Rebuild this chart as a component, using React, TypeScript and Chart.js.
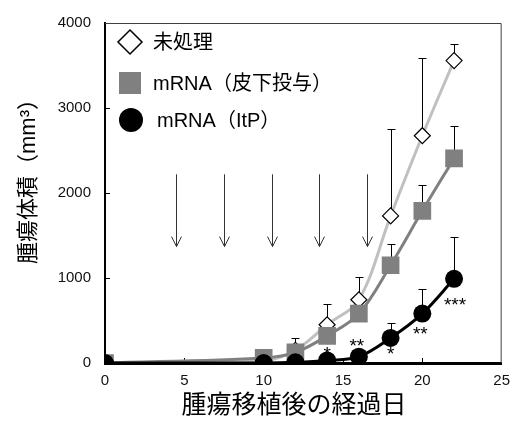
import React, { useEffect, useRef } from "react";
import { Chart, registerables } from "chart.js";
Chart.register(...registerables);

// ---- data ----
const days = [0, 10, 12, 14, 16, 18, 20, 22];
const untreated = [0, 25, 150, 450, 744, 1730, 2674, 3558];
const untreatedErr = [0, 20, 140, 250, 268, 1026, 919, 198];
const subq = [0, 60, 125, 320, 580, 1150, 1790, 2407];
const subqErr = [0, 60, 60, 60, 60, 245, 303, 383];
const itp = [0, 0, 8, 30, 75, 295, 581, 990];
const itpErr = [0, 0, 0, 0, 0, 180, 295, 498];
const itpStars = ["", "", "", "*", "**", "*", "**", "***"];
const doseDays = [4.5, 7.5, 10.5, 13.5, 16.5];
const arrowFrom = 2220;
const arrowTo = 1370;
const legendLabels = ["未処理", "mRNA（皮下投与）", "mRNA（ItP）"];
const yTitle = "腫瘍体積（mm³）";
const xTitle = "腫瘍移植後の経過日";

const FONT = "'Liberation Sans', 'Noto Sans CJK JP', sans-serif";

// style-only offsets for significance marks (pixels from point to mark centre)
const starOffsets: Record<number, [number, number]> = {
  3: [0, -10],
  4: [-2, -15],
  5: [0, 12],
  6: [-2, 16],
  7: [1, 22],
};

const toPts = (vals: number[]) => vals.map((v, i) => ({ x: days[i], y: v }));

const overlay = {
  id: "overlay",
  beforeDatasetsDraw(chart: any) {
    const { ctx, chartArea: a, scales } = chart;
    const x = scales.x, y = scales.y;
    ctx.save();
    // top & right frame
    ctx.strokeStyle = "#404040";
    ctx.lineWidth = 1;
    ctx.beginPath();
    ctx.moveTo(a.left, a.top + 0.5);
    ctx.lineTo(a.right - 0.5, a.top + 0.5);
    ctx.lineTo(a.right - 0.5, a.bottom);
    ctx.stroke();
    // inside tick marks
    ctx.strokeStyle = "#000";
    ctx.beginPath();
    for (let v = 1000; v < 4000; v += 1000) {
      const py = Math.round(y.getPixelForValue(v)) + 0.5;
      ctx.moveTo(a.left, py);
      ctx.lineTo(a.left + 5, py);
    }
    for (let v = 5; v < 25; v += 5) {
      const px = Math.round(x.getPixelForValue(v)) + 0.5;
      ctx.moveTo(px, a.bottom);
      ctx.lineTo(px, a.bottom - 5);
    }
    ctx.stroke();
    // dosing arrows
    ctx.strokeStyle = "#333";
    ctx.lineWidth = 1;
    doseDays.forEach((d) => {
      const px = Math.round(x.getPixelForValue(d)) + 0.5;
      const y0 = y.getPixelForValue(arrowFrom);
      const y1 = y.getPixelForValue(arrowTo);
      ctx.beginPath();
      ctx.moveTo(px, y0);
      ctx.lineTo(px, y1);
      ctx.moveTo(px - 5, y1 - 10);
      ctx.lineTo(px, y1);
      ctx.lineTo(px + 5, y1 - 10);
      ctx.stroke();
    });
    // error bars (upper only)
    const errs = [
      [untreated, untreatedErr],
      [subq, subqErr],
      [itp, itpErr],
    ];
    ctx.strokeStyle = "#000";
    ctx.lineWidth = 1;
    errs.forEach(([vals, e]) => {
      vals.forEach((v, i) => {
        if (!e[i]) return;
        const px = Math.round(x.getPixelForValue(days[i])) + 0.5;
        const p0 = y.getPixelForValue(v);
        const p1 = Math.round(y.getPixelForValue(v + e[i])) + 0.5;
        ctx.beginPath();
        ctx.moveTo(px, p0);
        ctx.lineTo(px, p1);
        ctx.moveTo(px - 4, p1);
        ctx.lineTo(px + 4, p1);
        ctx.stroke();
      });
    });
    ctx.restore();
  },
  afterDatasetsDraw(chart: any) {
    const { ctx, scales } = chart;
    const x = scales.x, y = scales.y;
    ctx.save();
    // stars
    ctx.fillStyle = "#000";
    ctx.font = `19px ${FONT}`;
    ctx.textAlign = "center";
    ctx.textBaseline = "alphabetic";
    itpStars.forEach((s, i) => {
      if (!s) return;
      const off = starOffsets[i] || [0, 0];
      const px = x.getPixelForValue(days[i]) + off[0];
      const py = y.getPixelForValue(itp[i]) + off[1];
      ctx.fillText(s, px, py + 10);
    });
    // legend
    const lx = 130;
    const rows = [42, 83, 120];
    ctx.beginPath();
    ctx.moveTo(lx, rows[0] - 12);
    ctx.lineTo(lx + 12, rows[0]);
    ctx.lineTo(lx, rows[0] + 12);
    ctx.lineTo(lx - 12, rows[0]);
    ctx.closePath();
    ctx.fillStyle = "#fff";
    ctx.fill();
    ctx.strokeStyle = "#000";
    ctx.lineWidth = 1.5;
    ctx.stroke();
    ctx.fillStyle = "#808080";
    ctx.fillRect(lx - 11, rows[1] - 11, 22, 22);
    ctx.fillStyle = "#000";
    ctx.beginPath();
    ctx.arc(lx + 1, rows[2], 12, 0, Math.PI * 2);
    ctx.fill();
    ctx.font = `20px ${FONT}`;
    ctx.textAlign = "left";
    ctx.textBaseline = "middle";
    ctx.fillText(legendLabels[0], 153, rows[0] + 1);
    ctx.fillText(legendLabels[1], 153, rows[1] + 1);
    ctx.fillText(legendLabels[2], 157, rows[2] + 1);
    // titles
    ctx.font = `25px ${FONT}`;
    ctx.textAlign = "center";
    ctx.textBaseline = "middle";
    ctx.fillText(xTitle, 294, 406);
    ctx.save();
    ctx.translate(29, 176);
    ctx.rotate(-Math.PI / 2);
    ctx.font = `22px ${FONT}`;
    ctx.fillText(yTitle, 0, 0);
    ctx.restore();
    ctx.restore();
  },
};

export default function App() {
  const ref = useRef<HTMLCanvasElement>(null);
  useEffect(() => {
    if (!ref.current) return;
    const chart = new Chart(ref.current, {
      type: "line",
      data: {
        datasets: [
          {
            label: legendLabels[0],
            data: toPts(untreated),
            borderColor: "#c0c0c0",
            borderWidth: 3,
            pointStyle: "rectRot",
            pointRadius: 8,
            pointBackgroundColor: "#fff",
            pointBorderColor: "#000",
            pointBorderWidth: 1.2,
            tension: 0.35,
            order: 3,
          },
          {
            label: legendLabels[1],
            data: toPts(subq),
            borderColor: "#808080",
            borderWidth: 3,
            pointStyle: "rect",
            pointRadius: 12.5,
            pointBackgroundColor: "#808080",
            pointBorderColor: "#808080",
            pointBorderWidth: 0,
            tension: 0.35,
            order: 2,
          },
          {
            label: legendLabels[2],
            data: toPts(itp),
            borderColor: "#000",
            borderWidth: 3,
            pointStyle: "circle",
            pointRadius: 9,
            pointBackgroundColor: "#000",
            pointBorderColor: "#000",
            pointBorderWidth: 0,
            tension: 0.35,
            order: 1,
          },
        ],
      },
      options: {
        animation: false,
        responsive: false,
        layout: { padding: { left: 0, top: 19, right: 13, bottom: 0 } },
        plugins: { legend: { display: false }, tooltip: { enabled: false } },
        scales: {
          x: {
            type: "linear",
            min: 0,
            max: 25,
            ticks: { stepSize: 5, font: { family: FONT, size: 15 }, color: "#111", padding: 9 },
            grid: { drawOnChartArea: false, drawTicks: false },
            border: { color: "#000", width: 3 },
            afterFit: (s: any) => { s.height = 64; },
          },
          y: {
            min: 0,
            max: 4000,
            ticks: {
              stepSize: 1000,
              font: { family: FONT, size: 15 },
              color: "#111",
              padding: 14,
              callback: (v: any) => String(v),
            },
            grid: { drawOnChartArea: false, drawTicks: false },
            border: { color: "#000", width: 2 },
            afterFit: (s: any) => { s.width = 105; },
          },
        },
      },
      plugins: [overlay],
    });
    return () => chart.destroy();
  }, []);
  return (
    <div style={{ position: "fixed", left: 0, top: 0, width: 519, height: 427, background: "#fff" }}>
      <canvas ref={ref} width={519} height={427} style={{ display: "block" }} />
    </div>
  );
}
